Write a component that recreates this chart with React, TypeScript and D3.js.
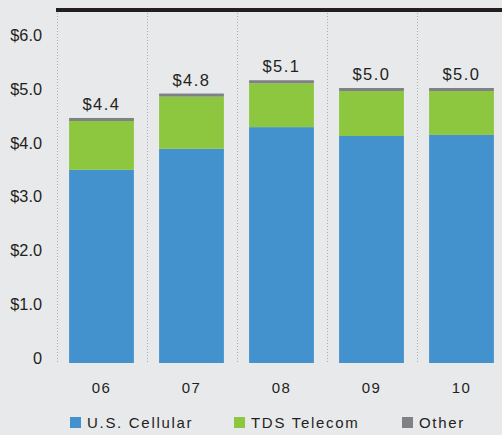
import React from "react";
import * as d3 from "d3";

const years = ["06", "07", "08", "09", "10"];
const usCellular = [3.48, 3.86, 4.25, 4.09, 4.11];
const tdsTelecom = [0.88, 0.94, 0.79, 0.81, 0.79];
const other = [0.055, 0.055, 0.055, 0.055, 0.055];
const totalLabels = ["$4.4", "$4.8", "$5.1", "$5.0", "$5.0"];
const yTickValues = [0, 1, 2, 3, 4, 5, 6];
const yTickLabels = ["0", "$1.0", "$2.0", "$3.0", "$4.0", "$5.0", "$6.0"];
const seriesNames = ["U.S. Cellular", "TDS Telecom", "Other"];
const seriesColors = ["#4392ce", "#8dc63f", "#808184"];

const W = 502;
const H = 435;

export default function App() {
  const x = d3
    .scaleBand<string>()
    .domain(years)
    .range([56.5, 506.5])
    .paddingInner(0.28)
    .paddingOuter(0.14);
  const y = d3.scaleLinear().domain([0, 6]).range([363, 30]);
  const yLabel = d3.scaleLinear().domain([0, 6]).range([358, 35]);

  const rows = years.map((yr, i) => ({
    year: yr,
    usc: usCellular[i],
    tds: tdsTelecom[i],
    oth: other[i],
  }));
  const stack = d3.stack<any>().keys(["usc", "tds", "oth"]);
  const layers = stack(rows);

  const sepX = years.map((yr) => (x(yr) as number) - (x.step() * x.paddingInner()) / 2);

  const textColor = "#231f20";
  const font = "'Liberation Sans', Arial, sans-serif";

  const legendX = [70, 234, 402];

  return (
    <svg
      width={W}
      height={H}
      style={{ position: "absolute", left: 0, top: 0 }}
      fontFamily={font}
    >
      <rect x={0} y={0} width={W} height={H} fill="#e8e9eb" />
      {sepX.map((sx, i) => (
        <line
          key={"sep" + i}
          x1={Math.round(sx) + 0.5}
          x2={Math.round(sx) + 0.5}
          y1={13}
          y2={363}
          stroke="#a7a9ac"
          strokeWidth={1}
          strokeDasharray="1,2"
        />
      ))}
      <line x1={56} x2={W} y1={10} y2={10} stroke={textColor} strokeWidth={4} />
      {layers.map((layer, li) =>
        layer.map((d, i) => (
          <rect
            key={li + "-" + i}
            x={x(years[i])}
            width={x.bandwidth()}
            y={y(d[1])}
            height={y(d[0]) - y(d[1])}
            fill={seriesColors[li]}
          />
        ))
      )}
      {years.map((yr, i) => {
        const top = layers[2][i][1];
        return (
          <text
            key={"tot" + i}
            x={(x(yr) as number) + x.bandwidth() / 2}
            y={y(top) - 8}
            textAnchor="middle"
            fontSize={16.5}
            letterSpacing={1.5}
            fill={textColor}
          >
            {totalLabels[i]}
          </text>
        );
      })}
      {yTickValues.map((v, i) => (
        <text
          key={"yt" + i}
          x={42}
          y={yLabel(v)}
          dy="0.36em"
          textAnchor="end"
          fontSize={16.3}
          fill={textColor}
        >
          {yTickLabels[i]}
        </text>
      ))}
      {years.map((yr, i) => (
        <text
          key={"xt" + i}
          x={(x(yr) as number) + x.bandwidth() / 2}
          y={388}
          dy="0.36em"
          textAnchor="middle"
          fontSize={15}
          letterSpacing={1.5}
          fill={textColor}
        >
          {yr}
        </text>
      ))}
      {seriesNames.map((name, i) => (
        <g key={"lg" + i} transform={`translate(${legendX[i]},0)`}>
          <rect x={0} y={417} width={11} height={11} fill={seriesColors[i]} />
          <text
            x={17}
            y={422.5}
            dy="0.36em"
            fontSize={15}
            letterSpacing={1.7}
            fill={textColor}
          >
            {name}
          </text>
        </g>
      ))}
    </svg>
  );
}
